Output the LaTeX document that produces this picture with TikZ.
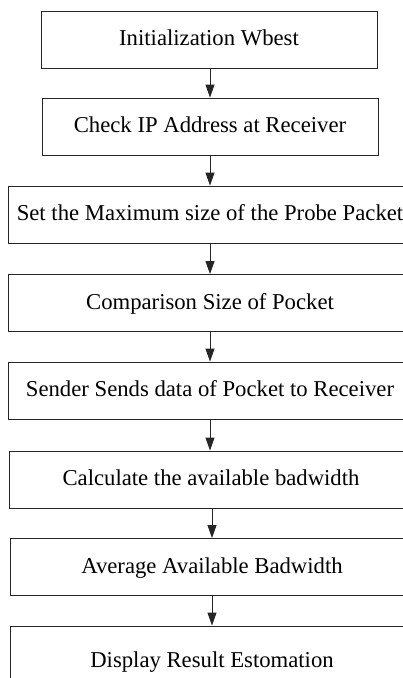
\documentclass[tikz,border=0pt]{standalone}
\usepackage{fontspec}
\setmainfont{Liberation Serif}
\usetikzlibrary{arrows.meta}
\begin{document}
\begin{tikzpicture}[x=1pt,y=-1pt,
  stepbox/.style={draw=black!85,line width=0.9pt,minimum height=57pt,inner sep=0pt,
    font=\fontsize{22.7}{26}\selectfont,text height=15.5pt,text depth=3pt},
  flow/.style={draw=black!85,line width=0.9pt,-{Triangle[length=13pt,width=9pt]}}]
\useasboundingbox (0,0) rectangle (403,678);
\clip (0,0) rectangle (403,678);
\node[stepbox,minimum width=336pt] (b1) at (209,39.5) {Initialization Wbest};
\node[stepbox,minimum width=336pt] (b2) at (210,126.5) {Check IP Address at Receiver};
\node[stepbox,minimum width=404pt] (b3) at (210,214.5) {Set the Maximum size of the Probe Packet};
\node[stepbox,minimum width=404pt] (b4) at (210,303) {Comparison Size of Pocket};
\node[stepbox,minimum width=404pt] (b5) at (210,390.5) {Sender Sends data of Pocket to Receiver};
\node[stepbox,minimum width=404pt] (b6) at (211,479.5) {Calculate the available badwidth};
\node[stepbox,minimum width=404pt] (b7) at (212,567) {Average Available Badwidth};
\node[stepbox,minimum width=404pt,minimum height=71pt] (b8) at (212,661.5) {Display Result Estomation};
\draw[flow] (b1.south -| b2.north) -- (b2.north);
\draw[flow] (b2.south -| b3.north) -- (b3.north);
\draw[flow] (b3.south -| b4.north) -- (b4.north);
\draw[flow] (b4.south -| b5.north) -- (b5.north);
\draw[flow] (b5.south -| b5.north) -- (b5.south |- b6.north);
\draw[flow] (b6.south -| b7.north) -- (b7.north);
\draw[flow] (b7.south -| b8.north) -- (b8.north);
\end{tikzpicture}
\end{document}
